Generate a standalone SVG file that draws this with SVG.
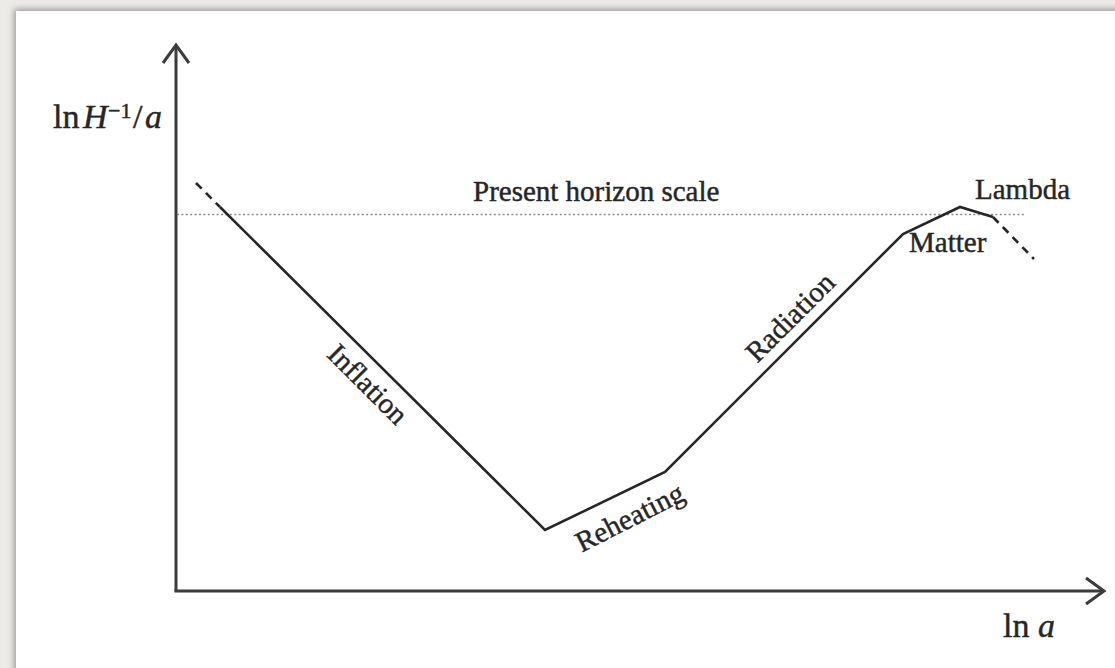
<svg xmlns="http://www.w3.org/2000/svg" width="1115" height="668" viewBox="0 0 1115 668">
  <defs>
    <filter id="shadow" x="-5%" y="-5%" width="110%" height="110%">
      <feGaussianBlur stdDeviation="3"/>
    </filter>
    <filter id="soft" x="-2%" y="-2%" width="104%" height="104%">
      <feGaussianBlur stdDeviation="0.4"/>
    </filter>
  </defs>
  <style>
    .axis { fill: none; stroke: #3a3a3a; stroke-width: 3; stroke-linejoin: miter; stroke-linecap: butt; }
    .curve { fill: none; stroke: #262626; stroke-width: 2.6; stroke-linejoin: miter; }
    .dash { fill: none; stroke: #262626; stroke-width: 2.6; stroke-dasharray: 8 6; }
    .dot { fill: none; stroke: #8a8a8a; stroke-width: 1.6; stroke-dasharray: 2 2.4; }
    .lbl { font-family: "Liberation Serif", "Times New Roman", serif; font-size: 29px; fill: #262626; stroke: #262626; stroke-width: 0.45; }
    .math { font-family: "Liberation Serif", "Times New Roman", serif; font-size: 34px; fill: #262626; stroke: #262626; stroke-width: 0.45; }
    .sup { font-size: 22px; }
    .it { font-style: italic; }
  </style>

  <!-- background frame -->
  <rect x="0" y="0" width="1115" height="668" fill="#ecebe7"/>
  <rect x="14" y="9" width="1110" height="670" fill="#9a9a96" filter="url(#shadow)"/>
  <rect x="16" y="11" width="1099" height="657" fill="#ffffff"/>

  <g id="axes" filter="url(#soft)">
    <line class="axis" x1="176" y1="47" x2="176" y2="591.5"/>
    <line class="axis" x1="174.5" y1="591" x2="1103" y2="591"/>
    <polyline class="axis" points="163,63 176,45 189,63"/>
    <polyline class="axis" points="1086,578 1104,591 1086,604"/>
  </g>

  <g id="horizon">
    <line class="dot" x1="177" y1="214.5" x2="1024" y2="214.5"/>
  </g>

  <g id="connectors" filter="url(#soft)">
    <line class="dash" x1="196" y1="183" x2="220" y2="207"/>
    <polyline class="curve" points="220,207 545,530 665,472 903,234 960,207 993,217"/>
    <line class="dash" x1="993" y1="217" x2="1034" y2="259"/>
  </g>

  <g id="labels">
    <g id="y-label">
      <text class="math" x="53" y="128">ln</text>
      <text class="math it" x="83" y="128">H</text>
      <text class="math sup" x="108" y="118">−1</text>
      <text class="math" x="133" y="128">/</text>
      <text class="math it" x="145" y="128">a</text>
    </g>
    <g id="x-label">
      <text class="math" x="1003" y="637">ln</text>
      <text class="math it" x="1038" y="637">a</text>
    </g>
    <text id="present" class="lbl" x="473" y="201">Present horizon scale</text>
    <text id="lambda" class="lbl" x="975" y="199">Lambda</text>
    <text id="matter" class="lbl" x="909" y="252">Matter</text>
    <text id="inflation" class="lbl" text-anchor="middle" transform="translate(361,391) rotate(45)">Inflation</text>
    <text id="reheating" class="lbl" text-anchor="middle" transform="translate(634,526) rotate(-27)">Reheating</text>
    <text id="radiation" class="lbl" text-anchor="middle" transform="translate(797,324) rotate(-45)">Radiation</text>
  </g>
</svg>
